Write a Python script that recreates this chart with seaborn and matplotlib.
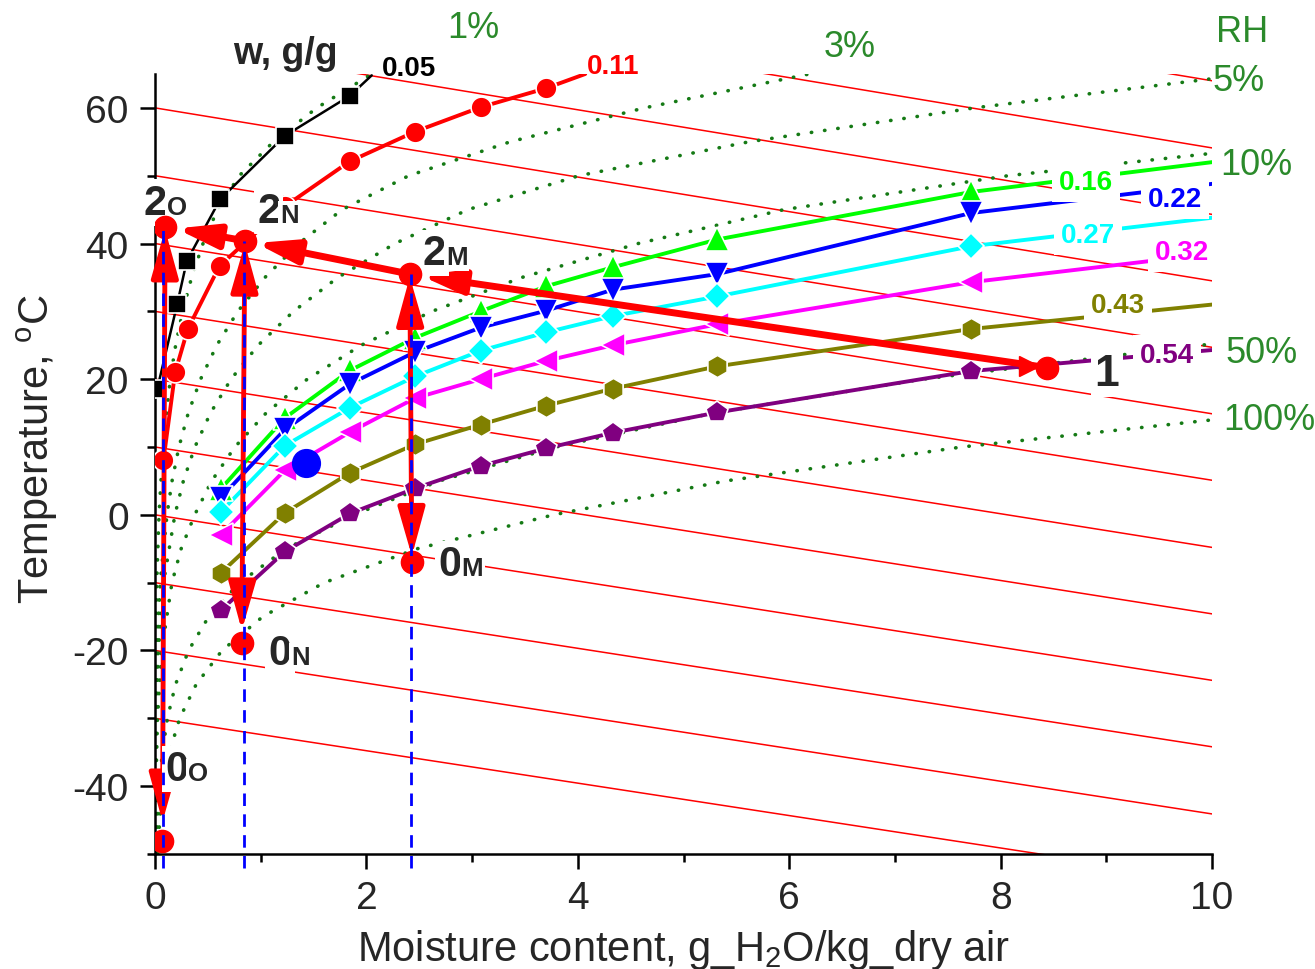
import matplotlib
matplotlib.use("Agg")
import matplotlib.pyplot as plt
from matplotlib.ticker import MultipleLocator
import seaborn as sns

# constant-enthalpy lines: temperature where each line meets x = 0 and x = 10
enth_t_x0 = [-30, -20, -10, 0, 10, 20, 30, 40, 50, 60, 70, 80, 90]
enth_t_x10 = [-53.9, -44.1, -34.2, -24.4, -14.6, -4.8, 5.1, 14.9, 24.7, 34.5, 44.3, 54.1, 64.0]

# relative humidity curves (moisture content, temperature)
rh100_w = [0.024, 0.044, 0.079, 0.137, 0.233, 0.389, 0.634, 1.02, 1.60, 2.48, 3.77, 5.40, 7.63, 10.0]
rh100_t = [-50, -45, -40, -35, -30, -25, -20, -15, -10, -5, 0, 5, 10, 14.0]
rh50_w = [0.012, 0.022, 0.040, 0.069, 0.117, 0.194, 0.317, 0.508, 0.80, 1.24, 1.88, 2.69, 3.79, 5.28, 7.26, 10.0]
rh50_t = [-50, -45, -40, -35, -30, -25, -20, -15, -10, -5, 0, 5, 10, 15, 20, 25.2]
rh10_w = [0.0024, 0.0079, 0.023, 0.063, 0.160, 0.247, 0.375, 0.536, 0.755, 1.05, 1.44, 1.95, 2.62, 3.47, 4.57, 5.95, 8.07, 10.0]
rh10_t = [-50, -40, -30, -20, -10, -5, 0, 5, 10, 15, 20, 25, 30, 35, 40, 45, 50, 53.3]
rh5_w = [0.0012, 0.0039, 0.0117, 0.0317, 0.080, 0.188, 0.268, 0.377, 0.524, 0.719, 0.975, 1.31, 1.73, 2.27, 2.96, 4.01, 5.62, 7.75, 10.0]
rh5_t = [-50, -40, -30, -20, -10, 0, 5, 10, 15, 20, 25, 30, 35, 40, 45, 50, 55, 60, 64.3]
rh3_w = [0.0007, 0.0024, 0.0070, 0.019, 0.048, 0.113, 0.161, 0.226, 0.314, 0.431, 0.584, 0.783, 1.04, 1.36, 1.77, 2.40, 3.36, 4.63, 6.19]
rh3_t = [-50, -40, -30, -20, -10, 0, 5, 10, 15, 20, 25, 30, 35, 40, 45, 50, 55, 60, 65]
rh1_w = [0.0002, 0.0023, 0.0063, 0.016, 0.0375, 0.075, 0.144, 0.195, 0.261, 0.346, 0.454, 0.590, 0.797, 1.12, 1.53, 2.05]
rh1_t = [-50, -30, -20, -10, 0, 10, 20, 25, 30, 35, 40, 45, 50, 55, 60, 65]

# sorption series, w in g/g
mk_x = [0.62, 1.23, 1.845, 2.46, 3.08, 3.70, 4.33, 5.32, 7.72]
s005_x = [0.02, 0.21, 0.30, 0.615, 1.23, 1.845]
s005_t = [18.5, 31.1, 37.4, 46.5, 55.9, 61.8]
s011_x = [0.08, 0.19, 0.31, 0.61, 1.23, 1.84, 2.46, 3.08, 3.70]
s011_t = [8.1, 21.0, 27.4, 36.7, 45.5, 52.1, 56.5, 60.1, 62.9]
s016_t = [3.8, 14.3, 21.3, 26.1, 30.0, 33.7, 36.5, 40.6, 47.6]
s022_t = [2.5, 12.6, 19.3, 24.0, 27.6, 30.1, 33.2, 35.5, 44.5]
s027_t = [0.4, 10.2, 15.8, 20.4, 24.2, 26.9, 29.3, 32.2, 39.6]
s032_t = [-3.0, 6.6, 12.2, 17.2, 20.0, 22.7, 25.0, 28.1, 34.3]
s043_t = [-8.6, 0.3, 6.2, 10.4, 13.3, 16.1, 18.6, 21.9, 27.4]
s054_t = [-14.1, -5.4, 0.2, 3.9, 7.2, 9.8, 12.1, 15.1, 21.2]
# where each line runs on to after its last marker
end_x = [2.05, 4.07, 10, 10, 10, 10, 10, 10]
end_t = [64.8, 65.0, 52.0, 48.8, 43.8, 38.5, 31.0, 24.3]
w_labels = ["0.05", "0.11", "0.16", "0.22", "0.27", "0.32", "0.43", "0.54"]

# process points
p1 = (8.44, 21.7)
p2 = [(2.41, 35.5), (0.85, 40.4), (0.095, 42.5)]   # 2M, 2N, 2O
p0 = [(2.43, -6.9), (0.82, -18.9), (0.07, -48.1)]  # 0M, 0N, 0O
blue_dot = (1.43, 7.6)

sns.set_theme(style="ticks")
plt.rcParams["font.family"] = ["Liberation Sans", "DejaVu Sans"]
plt.rcParams["mathtext.fontset"] = "custom"
plt.rcParams["mathtext.rm"] = "Liberation Sans"
plt.rcParams["mathtext.default"] = "regular"
plt.rcParams["axes.unicode_minus"] = False

fig = plt.figure(figsize=(13.15, 9.7), dpi=100)
ax = fig.add_axes([0.1179, 0.1186, 0.8038, 0.8041])

# enthalpy lines
for a, b in zip(enth_t_x0, enth_t_x10):
    sns.lineplot(x=[0, 10], y=[a, b], color="red", lw=1.1, ax=ax, zorder=1)

# RH curves
rh_green = "#157a15"
for w, t in [(rh1_w, rh1_t), (rh3_w, rh3_t), (rh5_w, rh5_t), (rh10_w, rh10_t),
             (rh50_w, rh50_t), (rh100_w, rh100_t)]:
    sns.lineplot(x=w, y=t, sort=False, estimator=None, color=rh_green, lw=2.6,
                 linestyle=(0, (0.1, 3.6)), dash_capstyle="round", ax=ax, zorder=2)

# sorption series
colors = ["black", "red", "#00ff00", "blue", "cyan", "magenta", "#808000", "#800080"]
markers = ["s", "o", "^", "v", "D", "<", "h", "p"]
msizes = [13, 15, 17, 17, 13, 17, 16, 16]
series_x = [s005_x, s011_x] + [mk_x] * 6
series_t = [s005_t, s011_t, s016_t, s022_t, s027_t, s032_t, s043_t, s054_t]
for i in range(8):
    xs = series_x[i] + [end_x[i]]
    ts = series_t[i] + [end_t[i]]
    sns.lineplot(x=xs, y=ts, sort=False, estimator=None, color=colors[i],
                 lw=1.8 if i == 0 else 2.8, ax=ax, zorder=4)
    ax.plot(series_x[i], series_t[i], ls="none", marker=markers[i], ms=msizes[i],
            color=colors[i], mec="white", mew=1.2, zorder=5)

# process path 1 -> 2M -> 2N -> 2O
path = [p1] + p2
for a, b in zip(path[:-1], path[1:]):
    ax.annotate("", xy=b, xytext=a, zorder=6,
                arrowprops=dict(arrowstyle="-|>,head_length=1.25,head_width=0.36",
                                mutation_scale=20, color="red", lw=5,
                                shrinkA=0, shrinkB=8))
ax.plot(8.27, 22.0, marker=">", ms=15, color="red", zorder=6)

# vertical 2 <-> 0 lines
for (xa, ta), (xb, tb), sb in zip(p0, p2, [4, 9, 14]):
    ax.annotate("", xy=(xb, tb), xytext=(xa, ta), zorder=6,
                arrowprops=dict(arrowstyle="<|-|>,head_length=1.5,head_width=0.42",
                                mutation_scale=20, color="red", lw=3.5,
                                shrinkA=sb, shrinkB=2))

white = dict(boxstyle="square,pad=0.08", fc="white", ec="none")
wide = dict(boxstyle="square,pad=0.25", fc="white", ec="none")

def point_label(x, t, big, small, size=30):
    ax.text(x, t, big, fontsize=size, fontweight="bold", ha="left", va="baseline",
            bbox=white, zorder=7)
    ax.annotate(small, xy=(x, t), xytext=(size * 0.56, 0), textcoords="offset points",
                fontsize=size * 0.62, fontweight="bold", ha="left", va="baseline",
                bbox=white, zorder=7, annotation_clip=False)

point_label(2.53, 37.0, "2", "M")
point_label(0.965, 43.2, "2", "N")
point_label(-0.11, 44.4, "2", "O")
point_label(2.68, -8.9, "0", "M")
point_label(1.07, -22.0, "0", "N")
point_label(0.095, -39.1, "0", "O")
ax.text(8.89, 19.2, "1", fontsize=32, fontweight="bold", va="baseline", bbox=white, zorder=7)
ax.text(0.74, 66.6, "w, g/g", fontsize=27, fontweight="bold", va="baseline", zorder=7)

# series labels
lab_x = [2.15, 4.09, 8.55, 9.39, 8.57, 9.46, 8.85, 9.32]
lab_t = [64.8, 65.1, 48.1, 45.6, 40.2, 37.7, 29.9, 22.5]
for i in range(8):
    ax.text(lab_x[i], lab_t[i], w_labels[i], color=colors[i], fontsize=20,
            fontweight="bold", va="baseline", bbox=wide if i > 1 else None, zorder=7)

# RH labels
rh_text = ["1%", "3%", "RH", "5%", "10%", "50%", "100%"]
rh_tx = [2.76, 6.33, 10.04, 10.0, 10.08, 10.13, 10.11]
rh_tt = [70.5, 67.6, 69.9, 62.6, 50.3, 22.5, 12.6]
for s, x, t in zip(rh_text, rh_tx, rh_tt):
    ax.text(x, t, s, color="#2b8a2b", fontsize=26, va="baseline", clip_on=False)

# process points
ax.plot([p1[0]] + [p[0] for p in p2 + p0], [p1[1]] + [p[1] for p in p2 + p0],
        ls="none", marker="o", ms=16, color="red", zorder=8)
ax.plot(*blue_dot, marker="o", ms=20, color="blue", zorder=8)

# blue dashed drop lines
for x, t in [(0.08, 42.5), (0.84, 40.4), (2.42, 35.5)]:
    ax.plot([x, x], [-52, t], color="blue", lw=2, ls=(0, (4.5, 3)), clip_on=False, zorder=9)

ax.set_xlim(0, 10)
ax.set_ylim(-50, 65)
sns.despine(ax=ax)
for side in ["left", "bottom"]:
    ax.spines[side].set_color("black")
    ax.spines[side].set_linewidth(1.8)
ax.xaxis.set_major_locator(MultipleLocator(2))
ax.xaxis.set_minor_locator(MultipleLocator(1))
ax.yaxis.set_major_locator(MultipleLocator(20))
ax.yaxis.set_minor_locator(MultipleLocator(10))
ax.tick_params(which="major", length=11, width=1.8, color="black", labelsize=28, pad=8)
ax.tick_params(which="minor", length=6, width=1.8, color="black")
ax.set_xlabel("Moisture content, g_H$_{2}$O/kg_dry air", fontsize=30, labelpad=8)
ax.set_ylabel("Temperature, $^{o}$C", fontsize=30)
ax.yaxis.set_label_coords(-0.09, 0.52)

fig.savefig("out.png", dpi=100)
